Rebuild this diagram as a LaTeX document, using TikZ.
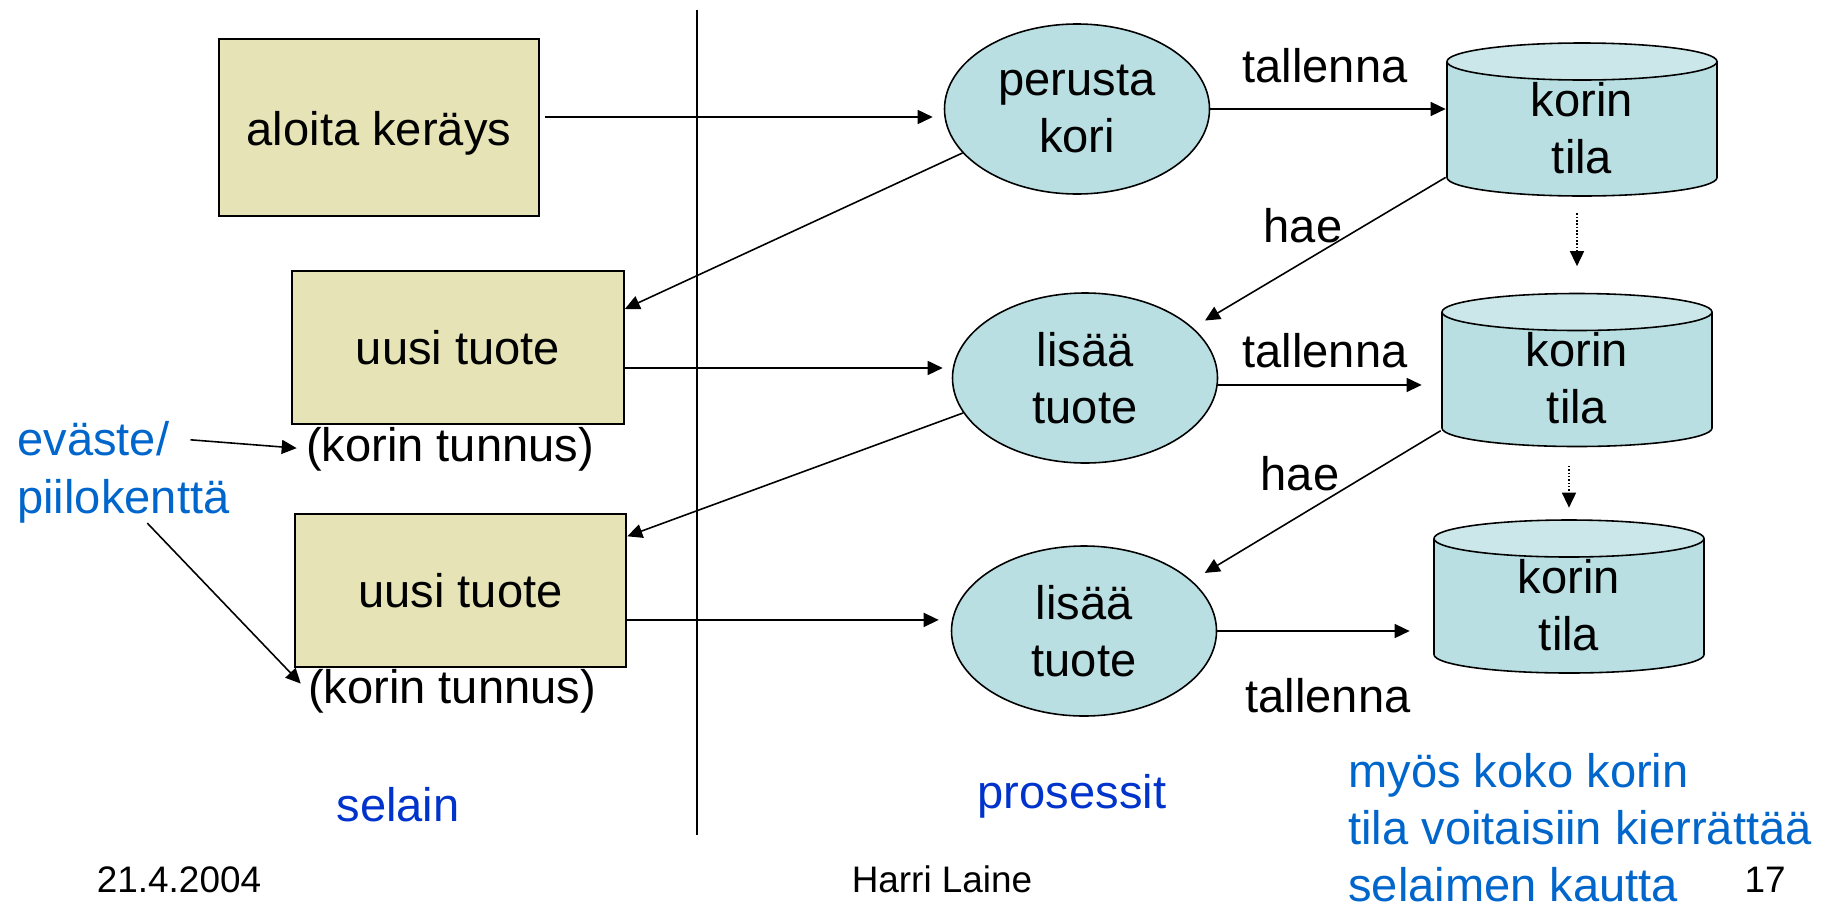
\documentclass[tikz,border=0pt]{standalone}
\usepackage{fontspec}
\setmainfont{Liberation Sans}
\usepackage{xcolor}
\usepackage{tikz}
\usetikzlibrary{positioning,shapes.geometric,arrows.meta}

\definecolor{boxfill}{RGB}{230,228,182}
\definecolor{procfill}{RGB}{185,223,227}
\definecolor{topfill}{RGB}{203,231,234}
\definecolor{darkblue}{RGB}{0,51,204}
\definecolor{lightblue}{RGB}{0,102,204}

\begin{document}
\begin{tikzpicture}[
  font=\fontsize{26.8}{32.2}\selectfont,
  box/.style={draw, line width=1.2pt, fill=boxfill, minimum width=6.63cm, minimum height=3.06cm, inner sep=0pt},
  proc/.style={ellipse, draw, line width=0.9pt, fill=procfill, minimum width=5.3cm, minimum height=3.4cm, inner sep=0pt, align=center},
  % drum drawn inside the node's own box
  store/.style={minimum width=5.44cm, minimum height=3.1cm, inner sep=0pt, align=center,
    text height=2.14cm, text depth=0pt,
    path picture={
      \filldraw[line width=0.9pt, fill=procfill]
        ([xshift=0.02cm,yshift=-0.39cm]path picture bounding box.north west)
        -- ([xshift=0.02cm,yshift=0.39cm]path picture bounding box.south west)
        arc[start angle=180, end angle=360, x radius=2.70cm, y radius=0.37cm]
        -- ([xshift=-0.02cm,yshift=-0.39cm]path picture bounding box.north east);
      \filldraw[line width=0.9pt, fill=topfill]
        ([yshift=-0.39cm]path picture bounding box.north) ellipse[x radius=2.70cm, y radius=0.37cm];
    }},
  lbl/.style={anchor=base, inner sep=0pt},
  foot/.style={anchor=base, inner sep=0pt, font=\fontsize{21}{25}\selectfont},
  flow/.style={line width=0.9pt, -{Triangle[length=0.3cm,width=0.28cm]}},
  next/.style={flow, densely dotted}
]
\useasboundingbox (0,0) rectangle (36.64,-18.18);

% Browser side
\node[box, minimum width=6.4cm, minimum height=3.54cm, text height=0.7cm, text depth=0pt] (aloita) at (7.58,-2.55) {aloita keräys};
\node[box] (uusi1) at (9.16,-6.95) {uusi tuote};
\node[box] (uusi2) at (9.21,-11.81) {uusi tuote};

\node[lbl] (tunnus1) at (9.0,-9.22) {(korin tunnus)};
\node[lbl] (tunnus2) at (9.04,-14.06) {(korin tunnus)};

\node[lbl, anchor=base west, text=lightblue] (evaste) at (0.34,-9.1) {eväste/};
\node[lbl, anchor=base west, text=lightblue] (piilo) at (0.34,-10.26) {piilokenttä};

% Divider
\draw[line width=1.1pt] (13.94,-0.2) -- (13.94,-16.7);

% Processes
\node[proc] (perusta) at (21.54,-2.18) {perusta\\kori};
\node[proc] (lisaa1) at (21.70,-7.56) {lisää\\tuote};
\node[proc] (lisaa2) at (21.68,-12.62) {lisää\\tuote};

% Stored cart states
\node[store] (tila1) at (31.64,-2.39) {korin\\tila};
\node[store] (tila2) at (31.54,-7.40) {korin\\tila};
\node[store] (tila3) at (31.38,-11.93) {korin\\tila};

% Edge labels
\node[lbl] (tallenna1) at (26.5,-1.64) {tallenna};
\node[lbl] (tallenna2) at (26.5,-7.34) {tallenna};
\node[lbl] (tallenna3) at (26.56,-14.24) {tallenna};
\node[lbl] (hae1) at (26.06,-4.84) {hae};
\node[lbl] (hae2) at (26.0,-9.8) {hae};

% Arrows
\draw[flow, shorten <=0.1cm, shorten >=0.22cm] ([yshift=0.21cm]aloita.east) -- ([yshift=-0.16cm]perusta.west);
\draw[flow] (perusta.east) -- (perusta.east -| tila1.west);
\draw[flow] (perusta.201) -- (uusi1.13);
\draw[flow, shorten >=0.28cm] (tila1.203) -- (lisaa1.25);

\draw[flow, shorten >=0.18cm] (uusi1.-7) -- (uusi1.-7 -| lisaa1.west);
\draw[flow, shorten >=0.38cm] (lisaa1.-3.5) -- (lisaa1.-3.5 -| tila2.west);
\draw[flow] (lisaa1.196) -- (uusi2.18);
\draw[flow, shorten >=0.3cm] (tila2.204) -- (lisaa2.25);

\draw[flow, shorten >=0.24cm] (uusi2.-10) -- (uusi2.-10 -| lisaa2.west);
\draw[flow, shorten >=0.46cm] (lisaa2.east) -- (lisaa2.east -| tila3.west);

\draw[next, shorten <=0.32cm, shorten >=0.52cm] (tila2.north |- tila1.south) -- (tila2.north);
\draw[next, shorten <=0.36cm, shorten >=0.22cm] (tila3.north |- tila2.south) -- (tila3.north);

\draw[flow, shorten <=0.42cm, shorten >=0.18cm] (evaste.east) -- (tunnus1.west);
\draw[flow, shorten >=0.2cm] (piilo.-43) -- (tunnus2.west);

% Column titles and note
\node[lbl, text=darkblue] (selain) at (7.96,-16.42) {selain};
\node[lbl, text=darkblue] (prosessit) at (21.44,-16.16) {prosessit};
\node[lbl, anchor=base west, text=lightblue, align=left] (huom) at (26.96,-18.02)
  {myös koko korin\\tila voitaisiin kierrättää\\selaimen kautta};

% Footer
\node[foot] (pvm) at (3.58,-17.84) {21.4.2004};
\node[foot] (tekija) at (18.84,-17.84) {Harri Laine};
\node[foot] (sivu) at (35.3,-17.84) {17};

\end{tikzpicture}
\end{document}
